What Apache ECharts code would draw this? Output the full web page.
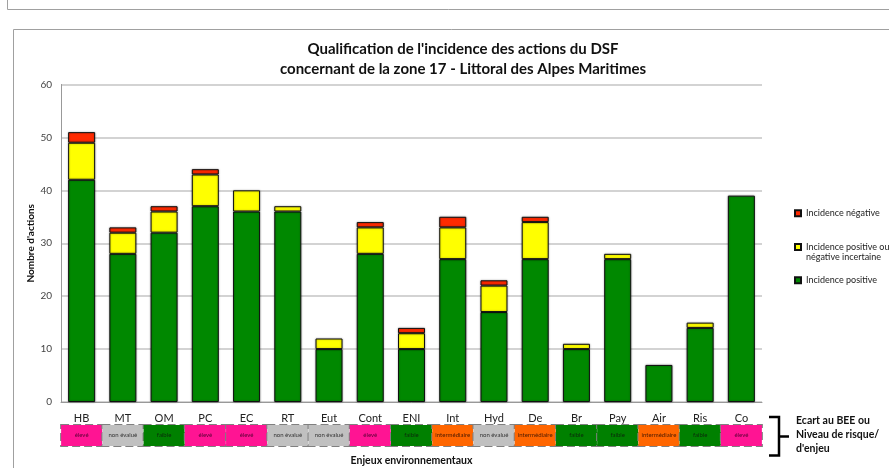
<!DOCTYPE html>
<html>
<head>
    <meta charset="UTF-8">
    <title>Qualification de l'incidence des actions du DSF</title>
    <script src="https://cdn.jsdelivr.net/npm/echarts@6/dist/echarts.min.js"></script>
    <style>
        html, body { margin: 0; padding: 0; background: #fff; }
        #chart { width: 889px; height: 468px; }
    </style>
</head>
<body>
<div id="chart"></div>
<script>
    // données
    var categories = ['HB', 'MT', 'OM', 'PC', 'EC', 'RT', 'Eut', 'Cont', 'ENI', 'Int', 'Hyd', 'De', 'Br', 'Pay', 'Air', 'Ris', 'Co'];
    var positive = [42, 28, 32, 37, 36, 36, 10, 28, 10, 27, 17, 27, 10, 27, 7, 14, 39];
    var uncertain = [7, 4, 4, 6, 4, 1, 2, 5, 3, 6, 5, 7, 1, 1, 0, 1, 0];
    var negative = [2, 1, 1, 1, 0, 0, 0, 1, 1, 2, 1, 1, 0, 0, 0, 0, 0];
    var levels = ['élevé', 'non évalué', 'faible', 'élevé', 'élevé', 'non évalué', 'non évalué', 'élevé', 'faible',
        'intermédiaire', 'non évalué', 'intermédiaire', 'faible', 'faible', 'intermédiaire', 'faible', 'élevé'];
    var yTicks = [0, 10, 20, 30, 40, 50, 60];

    var FONT = 'Lato, "Liberation Sans", sans-serif';

    // couleur des cases "Ecart au BEE"
    var levelStyle = {
        'élevé': {key: 'eleve', bg: '#ff1493', fg: '#5a0035'},
        'non évalué': {key: 'nonev', bg: '#c0c0c0', fg: '#333333'},
        'faible': {key: 'faible', bg: '#008000', fg: '#0a2a0a'},
        'intermédiaire': {key: 'inter', bg: '#ff6600', fg: '#4a1a00'}
    };

    var rich = {
        n: {fontSize: 11, color: '#222', lineHeight: 14, fontFamily: FONT}
    };
    Object.keys(levelStyle).forEach(function (k) {
        var s = levelStyle[k];
        rich[s.key] = {
            backgroundColor: s.bg,
            color: s.fg,
            width: 41,
            height: 21,
            lineHeight: 21,
            fontSize: 6,
            align: 'center',
            fontFamily: FONT,
            borderColor: '#808080',
            borderWidth: 1,
            borderType: 'dashed'
        };
    });

    function zeroToNull(arr) {
        return arr.map(function (v) { return v === 0 ? null : v; });
    }

    var barStyle = function (color) {
        return {
            color: color,
            borderColor: '#111',
            borderWidth: 1,
            shadowBlur: 2,
            shadowColor: 'rgba(0,0,0,0.35)'
        };
    };

    var legendBase = {
        orient: 'vertical',
        left: 794,
        padding: 0,
        icon: 'rect',
        itemWidth: 6,
        itemHeight: 6,
        selectedMode: false,
        textStyle: {fontSize: 9, color: '#222', fontFamily: FONT, lineHeight: 10.6}
    };

    var myChart = echarts.init(document.getElementById('chart'), null, {renderer: 'canvas'});

    var option = {
        animation: false,
        backgroundColor: '#fff',
        textStyle: {fontFamily: FONT},
        title: {
            text: "Qualification de l'incidence des actions du DSF\nconcernant de la zone 17 - Littoral des Alpes Maritimes",
            left: 458,
            textAlign: 'center',
            top: 34,
            textStyle: {fontSize: 15, fontWeight: 'bold', color: '#111', lineHeight: 20, fontFamily: FONT}
        },
        legend: [
            Object.assign({}, legendBase, {top: 208, data: ['Incidence négative']}),
            Object.assign({}, legendBase, {
                top: 231, data: ['Incidence positive ou\nnégative incertaine'],
                formatter: function (name) { return ' \n' + name; }
            }),
            Object.assign({}, legendBase, {top: 275, data: ['Incidence positive']})
        ],
        grid: {left: 61, right: 127, top: 84.5, bottom: 66, outerBoundsMode: 'none'},
        xAxis: {
            type: 'category',
            data: categories,
            name: 'Enjeux environnementaux',
            nameLocation: 'middle',
            nameGap: 53,
            nameTextStyle: {fontSize: 10.5, fontWeight: 'bold', color: '#111', fontFamily: FONT},
            axisLine: {show: true, lineStyle: {color: '#999', width: 1}},
            axisTick: {show: false},
            axisLabel: {
                interval: 0,
                margin: 9,
                rich: rich,
                formatter: function (value, idx) {
                    var s = levelStyle[levels[idx]];
                    return '{n|' + value + '}\n{' + s.key + '|' + levels[idx] + '}';
                }
            }
        },
        yAxis: {
            type: 'value',
            min: yTicks[0],
            max: yTicks[yTicks.length - 1],
            interval: yTicks[1] - yTicks[0],
            name: "Nombre d'actions",
            nameLocation: 'middle',
            nameGap: 25,
            nameMoveOverlap: false,
            nameTextStyle: {fontSize: 10, fontWeight: 'bold', color: '#111', fontFamily: FONT},
            axisLine: {show: true, lineStyle: {color: '#999', width: 1}},
            axisTick: {show: false},
            axisLabel: {fontSize: 10, color: '#444', margin: 9, fontFamily: FONT},
            splitLine: {lineStyle: {color: '#c4c4c4', width: 1.5}}
        },
        series: [
            {
                name: 'Incidence positive',
                type: 'bar',
                stack: 'tot',
                barWidth: 27,
                data: zeroToNull(positive),
                itemStyle: barStyle('#008800')
            },
            {
                name: 'Incidence positive ou\nnégative incertaine',
                type: 'bar',
                stack: 'tot',
                barWidth: 27,
                data: zeroToNull(uncertain),
                itemStyle: barStyle('#ffff00')
            },
            {
                name: 'Incidence négative',
                type: 'bar',
                stack: 'tot',
                barWidth: 27,
                data: zeroToNull(negative),
                itemStyle: barStyle('#ff2a00')
            }
        ],
        graphic: [
            // cadres
            {type: 'rect', silent: true, shape: {x: 7.5, y: -5, width: 900, height: 14.5},
                style: {fill: 'none', stroke: '#a0a0a0', lineWidth: 1}},
            {type: 'rect', silent: true, shape: {x: 13.5, y: 29.5, width: 900, height: 500},
                style: {fill: 'none', stroke: '#a0a0a0', lineWidth: 1}, z: -1},
            // accolade
            {type: 'polyline', silent: true,
                shape: {points: [[769, 417], [779, 417], [779, 436.5], [789, 436.5], [779, 436.5], [779, 455.5], [769, 455.5]]},
                style: {stroke: '#000', lineWidth: 2.5, fill: 'none'}},
            {type: 'text', silent: true, left: 796, top: 414,
                style: {text: 'Ecart au BEE ou\nNiveau de risque/\nd\'enjeu', fill: '#111',
                    font: 'bold 10.5px ' + FONT, lineHeight: 14}}
        ]
    };
    myChart.setOption(option);
</script>
</body>
</html>
